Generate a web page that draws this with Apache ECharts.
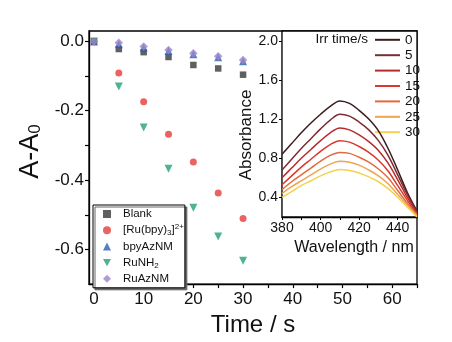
<!DOCTYPE html>
<html><head><meta charset="utf-8">
<script src="https://cdn.jsdelivr.net/npm/echarts@6/dist/echarts.min.js"></script>
<style>html,body{margin:0;padding:0;background:#fff}#c{width:452px;height:342px}</style>
</head><body><div id="c"></div>
<script>
// ---- data ----
const times = [0, 5, 10, 15, 20, 25, 30];
const blank = [0, -0.022, -0.031, -0.045, -0.068, -0.078, -0.096];
const rubpy = [0, -0.091, -0.174, -0.268, -0.348, -0.437, -0.511];
const bpyAzNM = [0, -0.008, -0.018, -0.028, -0.037, -0.046, -0.057];
const ruNH2 = [0, -0.130, -0.248, -0.367, -0.480, -0.563, -0.633];
const ruAzNM = [0, -0.004, -0.015, -0.025, -0.034, -0.043, -0.054];
const mainNames = ['Blank', '[Ru(bpy)3]2+', 'bpyAzNM', 'RuNH2', 'RuAzNM'];

const wavelengths = [380, 385, 390, 395, 400, 405, 410, 415, 420, 425, 430, 435, 440, 445, 450];
const irr0  = [0.84, 0.95, 1.06, 1.16, 1.25, 1.33, 1.385, 1.36, 1.29, 1.20, 1.08, 0.90, 0.68, 0.45, 0.26];
const irr5  = [0.68, 0.79, 0.90, 1.00, 1.10, 1.19, 1.25, 1.23, 1.17, 1.09, 0.98, 0.83, 0.63, 0.43, 0.25];
const irr10 = [0.60, 0.70, 0.80, 0.89, 0.98, 1.06, 1.11, 1.09, 1.04, 0.97, 0.88, 0.75, 0.58, 0.40, 0.24];
const irr15 = [0.53, 0.62, 0.71, 0.79, 0.87, 0.94, 0.98, 0.965, 0.92, 0.86, 0.78, 0.67, 0.52, 0.37, 0.23];
const irr20 = [0.48, 0.56, 0.63, 0.70, 0.77, 0.83, 0.86, 0.85, 0.81, 0.76, 0.69, 0.60, 0.47, 0.34, 0.22];
const irr25 = [0.44, 0.51, 0.57, 0.63, 0.69, 0.74, 0.77, 0.76, 0.73, 0.68, 0.62, 0.54, 0.43, 0.32, 0.21];
const irr30 = [0.40, 0.46, 0.52, 0.57, 0.62, 0.66, 0.685, 0.675, 0.65, 0.61, 0.56, 0.49, 0.40, 0.30, 0.20];
const irrNames = ['0', '5', '10', '15', '20', '25', '30'];

const mainXLabels = [0, 10, 20, 30, 40, 50, 60];
const mainXTicks = [0, 5, 10, 15, 20, 25, 30, 35, 40, 45, 50, 55, 60, 65];
const mainYLabels = [0, -0.2, -0.4, -0.6];
const mainYTicks = [0, -0.1, -0.2, -0.3, -0.4, -0.5, -0.6];
const insetXLabels = [380, 400, 420, 440];
const insetXTicks = [380, 390, 400, 410, 420, 430, 440];
const insetYLabels = [0.4, 0.8, 1.2, 1.6, 2.0];

// ---- styles ----
const FF = 'Liberation Sans, Arial, sans-serif';
const irrColors = ['#3a1c1c', '#7b2d33', '#b82a2c', '#d8392c', '#e4683e', '#eda552', '#f3d24e'];
const mainStyles = [
  { color: '#383838', symbol: 'rect', size: 6.5 },
  { color: '#e53c3c', symbol: 'circle', size: 7 },
  { color: '#2c5fb0', symbol: 'triangle', size: 8 },
  { color: '#23a06e', symbol: 'path://M0,0 L10,0 L5,9 Z', size: 8 },
  { color: '#9a85c9', symbol: 'diamond', size: 8.5 }
];
const mainData = [blank, rubpy, bpyAzNM, ruNH2, ruAzNM];
const irrData = [irr0, irr5, irr10, irr15, irr20, irr25, irr30];

const series = [];
mainData.forEach((arr, i) => {
  series.push({
    name: mainNames[i], type: 'scatter', xAxisIndex: 0, yAxisIndex: 0,
    symbol: mainStyles[i].symbol, symbolSize: mainStyles[i].size,
    itemStyle: { color: mainStyles[i].color },
    data: times.map((t, k) => [t, arr[k]]), z: 3 + i
  });
});
irrData.forEach((arr, i) => {
  series.push({
    name: irrNames[i], type: 'line', xAxisIndex: 1, yAxisIndex: 1,
    symbol: 'none', smooth: 0.35,
    lineStyle: { color: irrColors[i], width: 1.5 }, itemStyle: { color: irrColors[i] },
    data: wavelengths.map((w, k) => [w, arr[k]]), z: 10
  });
});

const chart = echarts.init(document.getElementById('c'), null, { renderer: 'canvas' });
chart.setOption({
  animation: false,
  textStyle: { fontFamily: FF },
  grid: [
    { left: 89, right: 35, top: 31, bottom: 47, show: true, borderColor: '#000', borderWidth: 1.3, backgroundColor: 'transparent' },
    { left: 282, right: 35, top: 31, bottom: 125, show: true, borderColor: '#000', borderWidth: 1.3, backgroundColor: '#fff', z: 1 }
  ],
  xAxis: [
    {
      type: 'value', gridIndex: 0, min: -1, max: 65,
      axisLine: { show: true, onZero: false, lineStyle: { color: '#000', width: 1.3 } },
      axisTick: { show: true, length: 4, customValues: mainXTicks, lineStyle: { color: '#000', width: 1.2 } },
      axisLabel: { customValues: mainXLabels, fontSize: 17, color: '#111', margin: 7, fontFamily: FF },
      splitLine: { show: false },
      name: 'Time / s', nameLocation: 'middle', nameGap: 22,
      nameTextStyle: { fontSize: 24, color: '#111', fontFamily: FF }
    },
    {
      type: 'value', gridIndex: 1, min: 380, max: 450,
      axisLine: { show: true, onZero: false, lineStyle: { color: '#000', width: 1.3 } },
      axisTick: { show: true, length: 3, customValues: insetXTicks, lineStyle: { color: '#000' } },
      axisLabel: { customValues: insetXLabels, fontSize: 14, color: '#111', margin: 4, fontFamily: FF },
      splitLine: { show: false },
      name: 'Wavelength / nm', nameLocation: 'middle', nameGap: 16,
      nameTextStyle: { fontSize: 16, color: '#111', fontFamily: FF, padding: [0, 0, 0, 9] }
    }
  ],
  yAxis: [
    {
      type: 'value', gridIndex: 0, min: -0.7, max: 0.03,
      axisLine: { show: true, onZero: false, lineStyle: { color: '#000', width: 1.3 } },
      axisTick: { show: true, length: 4, customValues: mainYTicks, lineStyle: { color: '#000', width: 1.2 } },
      axisLabel: { customValues: mainYLabels, fontSize: 17, color: '#111', margin: 5, fontFamily: FF,
        formatter: v => (Math.abs(v) < 1e-9 ? '0.0' : v.toFixed(1)) },
      splitLine: { show: false },
      name: '{a|A-A}{s|0}', nameLocation: 'middle', nameGap: 38, nameRotate: 90,
      nameTextStyle: {
        color: '#111', fontFamily: FF, padding: [0, 0, 0, 12],
        rich: {
          a: { fontSize: 27, lineHeight: 30, verticalAlign: 'bottom', color: '#111', fontFamily: FF },
          s: { fontSize: 17, lineHeight: 10, verticalAlign: 'bottom', color: '#111', fontFamily: FF }
        }
      }
    },
    {
      type: 'value', gridIndex: 1, min: 0.2, max: 2.1,
      axisLine: { show: true, onZero: false, lineStyle: { color: '#000', width: 1.3 } },
      axisTick: { show: true, length: 3, customValues: insetYLabels, lineStyle: { color: '#000' } },
      axisLabel: { customValues: insetYLabels, fontSize: 14, color: '#111', margin: 4, fontFamily: FF,
        formatter: v => v.toFixed(1) },
      splitLine: { show: false },
      name: 'Absorbance', nameLocation: 'middle', nameGap: 22, nameRotate: 90,
      nameTextStyle: { fontSize: 17, color: '#111', fontFamily: FF, padding: [0, 22, 0, 0] }
    }
  ],
  legend: [
    {
      data: mainNames, orient: 'vertical', left: 93, top: 205, selectedMode: false,
      padding: [2, 1, 2, 10], itemGap: 2.2, itemWidth: 8, itemHeight: 8,
      backgroundColor: '#fff', borderColor: '#000', borderWidth: 1,
      shadowColor: '#666', shadowBlur: 0, shadowOffsetX: 2, shadowOffsetY: 2,
      formatter: n => n === '[Ru(bpy)3]2+' ? '[Ru(bpy){sub|3}]{sup|2+}' : (n === 'RuNH2' ? 'RuNH{sub|2}' : n),
      textStyle: {
        fontSize: 11.5, lineHeight: 14, color: '#111', fontFamily: FF, padding: [0, 0, 0, 7],
        rich: {
          sub: { fontSize: 8, lineHeight: 8, padding: [6, 0, 0, 0], color: '#111', fontFamily: FF },
          sup: { fontSize: 8, lineHeight: 8, padding: [0, 0, 6, 0], color: '#111', fontFamily: FF }
        }
      }
    },
    {
      data: irrNames, orient: 'vertical', left: 375, top: 32.8, selectedMode: false,
      icon: 'rect', padding: 0, itemGap: 1.4, itemWidth: 25, itemHeight: 2,
      textStyle: { fontSize: 13.5, lineHeight: 13, color: '#111', fontFamily: FF }
    }
  ],
  graphic: [
    { type: 'text', x: 368, y: 39.5, z: 100,
      style: { text: 'Irr time/s', fontSize: 13.5, fontFamily: FF, fill: '#111', align: 'right', verticalAlign: 'middle' } }
  ],
  series: series
});
</script></body></html>
